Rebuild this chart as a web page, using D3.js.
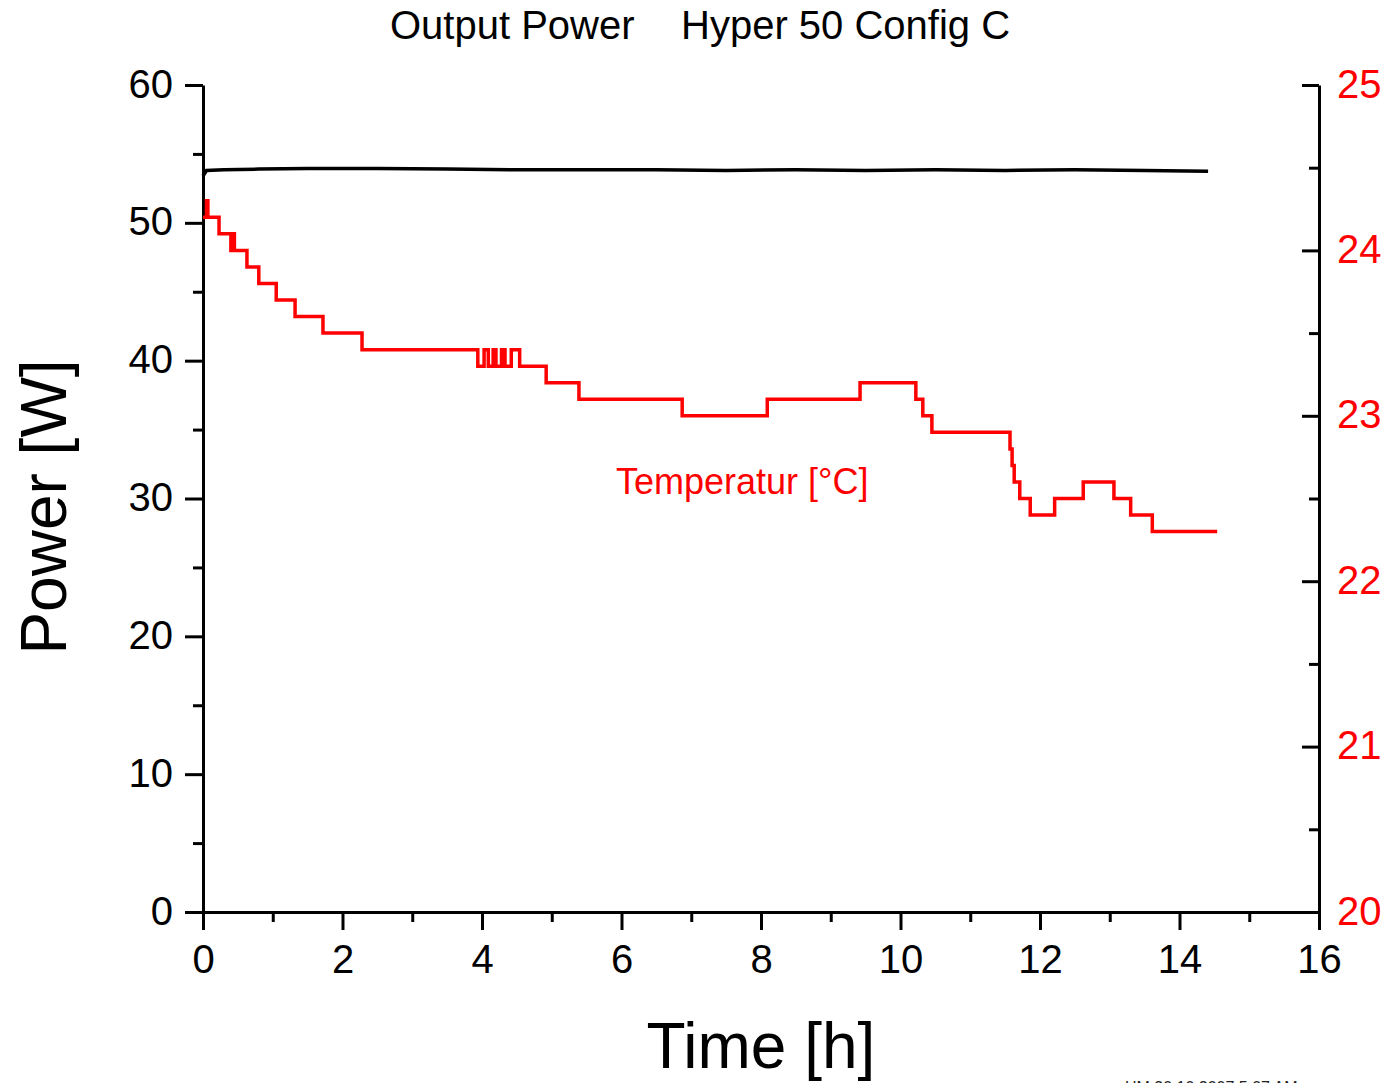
<!DOCTYPE html>
<html>
<head>
<meta charset="utf-8">
<script src="https://cdn.jsdelivr.net/npm/d3@7"></script>
<style>
  body { margin: 0; background: #fff; }
  svg { font-family: "Liberation Sans", Arial, sans-serif; }
</style>
</head>
<body>
<svg id="chart" width="1394" height="1083"></svg>
<script>
// power [W] over time [h] (black)
let powerTime  = [0, 0.05, 0.3, 0.8, 1.5, 2.5, 3.5, 4.5, 5.5, 6.5, 7.5, 8.5, 9.5, 10.5, 11.5, 12.5, 13.5, 14.41]
let powerValue = [53.4, 53.8, 53.85, 53.9, 53.95, 53.95, 53.9, 53.85, 53.85, 53.85, 53.8, 53.85, 53.8, 53.85, 53.8, 53.85, 53.8, 53.75]

// temperature [°C] change points (step after)
let tempTime  = [0, 0.05, 0.07, 0.23, 0.40, 0.42, 0.45, 0.63, 0.80, 1.05, 1.32, 1.72, 2.28,
                 3.94, 4.03, 4.09, 4.16, 4.20, 4.28, 4.33, 4.42, 4.54, 4.92, 5.39, 6.87, 8.09, 9.42,
                 10.22, 10.32, 10.45, 11.57, 11.60, 11.63, 11.71, 11.86, 12.21, 12.62, 13.06, 13.30, 13.61, 14.54]
let tempValue = [24.2, 24.3, 24.2, 24.1, 24.0, 24.1, 24.0, 23.9, 23.8, 23.7, 23.6, 23.5, 23.4,
                 23.3, 23.4, 23.3, 23.4, 23.3, 23.4, 23.3, 23.4, 23.3, 23.2, 23.1, 23.0, 23.1, 23.2,
                 23.1, 23.0, 22.9, 22.8, 22.7, 22.6, 22.5, 22.4, 22.5, 22.6, 22.5, 22.4, 22.3, 22.3]

let xTicks = [0, 2, 4, 6, 8, 10, 12, 14, 16]
let powerTicks = [0, 10, 20, 30, 40, 50, 60]
let tempTicks = [20, 21, 22, 23, 24, 25]

let titleLeft = 'Output Power'
let titleRight = 'Hyper 50 Config C'
let tempLabel = 'Temperatur [°C]'
let stamp = 'HM 30.10.2007 5:07 AM'

let margin = {top: 85, right: 75, bottom: 171, left: 203},
    width = 1394 - margin.left - margin.right,
    height = 1083 - margin.top - margin.bottom

let svg = d3.select('#chart')
let g = svg.append('g')
  .attr('transform', 'translate(' + margin.left + ',' + margin.top + ')')

let x = d3.scaleLinear().domain([0, 16]).range([0, width])
let y = d3.scaleLinear().domain([0, 60]).range([height, 0])
let yT = d3.scaleLinear().domain([20, 25]).range([height, 0])

function styleAxis(sel, color) {
  sel.select('.domain').attr('stroke', '#000').attr('stroke-width', 3)
  sel.selectAll('line').attr('stroke', '#000').attr('stroke-width', 3)
  sel.selectAll('text').attr('fill', color).style('font-size', '40px')
}

// minor ticks first
g.append('g')
  .attr('transform', 'translate(0,' + height + ')')
  .call(d3.axisBottom(x).tickValues(d3.range(1, 16, 2)).tickSize(10).tickFormat(''))
  .call(s => { s.select('.domain').remove(); s.selectAll('line').attr('stroke', '#000').attr('stroke-width', 3) })
g.append('g')
  .call(d3.axisLeft(y).tickValues(d3.range(5, 60, 10)).tickSize(10).tickFormat(''))
  .call(s => { s.select('.domain').remove(); s.selectAll('line').attr('stroke', '#000').attr('stroke-width', 3) })
g.append('g')
  .attr('transform', 'translate(' + width + ',0)')
  .call(d3.axisRight(yT).tickValues(d3.range(20.5, 25, 1)).tickSize(-10).tickFormat(''))
  .call(s => { s.select('.domain').remove(); s.selectAll('line').attr('stroke', '#000').attr('stroke-width', 3) })

// major axes
let xAxis = g.append('g')
  .attr('transform', 'translate(0,' + height + ')')
  .call(d3.axisBottom(x).tickValues(xTicks).tickSize(18).tickSizeOuter(0).tickPadding(14))
styleAxis(xAxis, '#000')
xAxis.selectAll('text').attr('dy', '0.71em').attr('y', 33)

let yAxis = g.append('g')
  .call(d3.axisLeft(y).tickValues(powerTicks).tickSize(18).tickSizeOuter(0).tickPadding(12))
styleAxis(yAxis, '#000')
yAxis.selectAll('text').attr('dy', '0.3em')

let yAxisR = g.append('g')
  .attr('transform', 'translate(' + width + ',0)')
  .call(d3.axisRight(yT).tickValues(tempTicks).tickSize(-17).tickSizeOuter(0).tickFormat(d3.format('d')))
styleAxis(yAxisR, '#ff0000')
yAxisR.selectAll('text').attr('x', 18).attr('dy', '0.3em')

// power line
let powerData = powerTime.map((t, i) => ({x: t, y: powerValue[i]}))
g.append('path')
  .datum(powerData)
  .attr('fill', 'none')
  .attr('stroke', '#000')
  .attr('stroke-width', 3.5)
  .attr('d', d3.line().x(d => x(d.x)).y(d => y(d.y)))

// temperature steps
let tempData = tempTime.map((t, i) => ({x: t, y: tempValue[i]}))
g.append('path')
  .datum(tempData)
  .attr('fill', 'none')
  .attr('stroke', '#ff0000')
  .attr('stroke-width', 3.5)
  .attr('d', d3.line().curve(d3.curveStepAfter).x(d => x(d.x)).y(d => yT(d.y)))

g.append('text')
  .attr('x', x(5.92))
  .attr('y', yT(22.53))
  .attr('fill', '#ff0000')
  .style('font-size', '36px')
  .text(tempLabel)

// titles
svg.append('text').attr('x', 390).attr('y', 39).style('font-size', '40px').text(titleLeft)
svg.append('text').attr('x', 681).attr('y', 39).style('font-size', '40px').text(titleRight)

svg.append('text')
  .attr('x', margin.left + width / 2)
  .attr('y', 1068)
  .attr('text-anchor', 'middle')
  .style('font-size', '64px')
  .text('Time [h]')

svg.append('text')
  .attr('transform', 'translate(66,507) rotate(-90)')
  .attr('text-anchor', 'middle')
  .style('font-size', '64px')
  .text('Power [W]')

// date stamp, cut by the lower edge as in the original
svg.append('text')
  .attr('x', 1125)
  .attr('y', 1093)
  .attr('fill', '#222')
  .style('font-size', '16px')
  .text(stamp)
</script>
</body>
</html>
